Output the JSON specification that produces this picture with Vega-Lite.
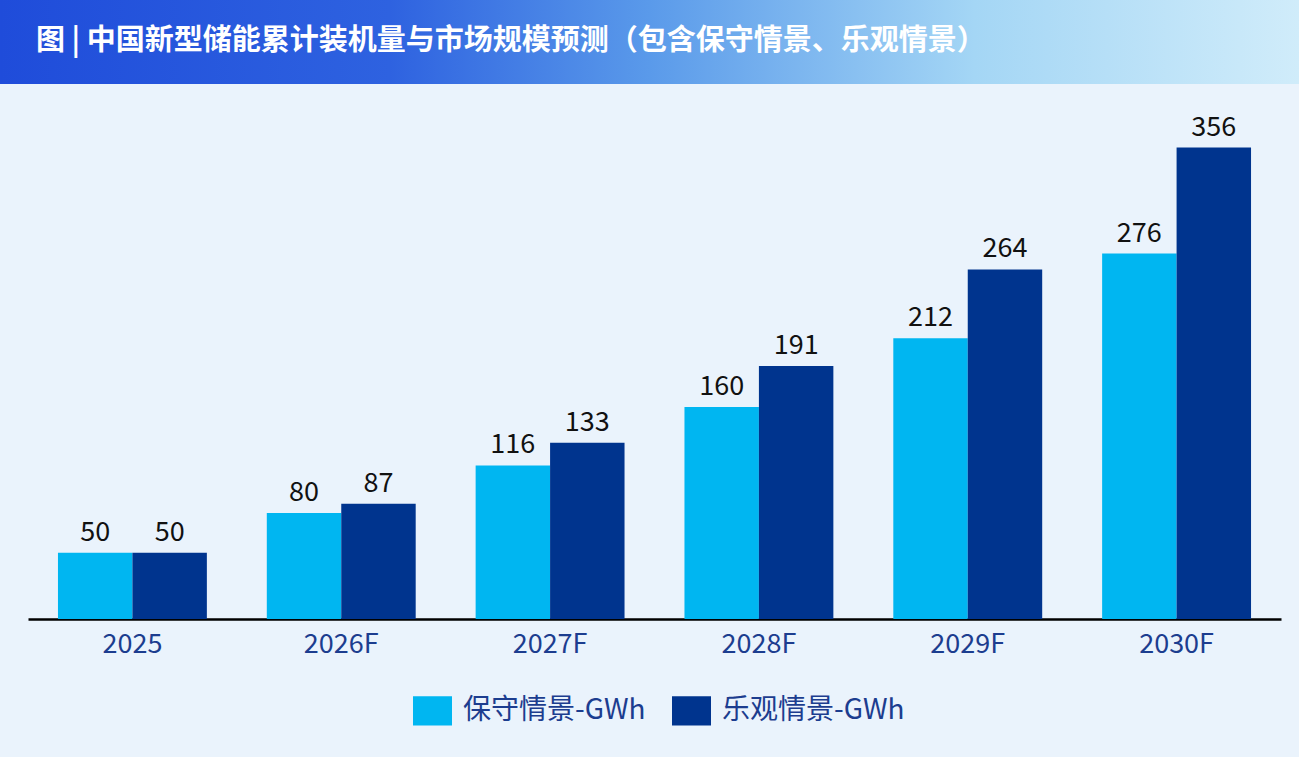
{
  "$schema": "https://vega.github.io/schema/vega-lite/v6.json",
  "background": "#EAF3FC",
  "padding": {"left": 0, "top": 0, "right": 0, "bottom": 100},
  "spacing": 0,
  "config": {
    "font": "Noto Sans CJK SC",
    "view": {"stroke": null}
  },
  "vconcat": [
    {
      "width": 1299,
      "height": 84,
      "view": {
        "stroke": null,
        "fill": {
          "gradient": "linear",
          "x1": 0, "y1": 0, "x2": 1, "y2": 0,
          "stops": [
            {"offset": 0, "color": "#1F4CDA"},
            {"offset": 0.3, "color": "#2E62E0"},
            {"offset": 0.5, "color": "#5A9AEA"},
            {"offset": 0.75, "color": "#A4D6F5"},
            {"offset": 1, "color": "#D0ECFA"}
          ]
        }
      },
      "data": {"values": [{"heading": "图 | 中国新型储能累计装机量与市场规模预测（包含保守情景、乐观情景）"}]},
      "mark": {
        "type": "text",
        "align": "left",
        "baseline": "middle",
        "fontSize": 29,
        "fontWeight": "bold",
        "color": "#FFFFFF",
        "x": 36,
        "y": 41
      },
      "encoding": {"text": {"field": "heading"}}
    },
    {
      "width": 1299,
      "height": 535,
      "data": {
        "values": [
          {"year": "2025", "series": "保守情景-GWh", "value": 50},
          {"year": "2025", "series": "乐观情景-GWh", "value": 50},
          {"year": "2026F", "series": "保守情景-GWh", "value": 80},
          {"year": "2026F", "series": "乐观情景-GWh", "value": 87},
          {"year": "2027F", "series": "保守情景-GWh", "value": 116},
          {"year": "2027F", "series": "乐观情景-GWh", "value": 133},
          {"year": "2028F", "series": "保守情景-GWh", "value": 160},
          {"year": "2028F", "series": "乐观情景-GWh", "value": 191},
          {"year": "2029F", "series": "保守情景-GWh", "value": 212},
          {"year": "2029F", "series": "乐观情景-GWh", "value": 264},
          {"year": "2030F", "series": "保守情景-GWh", "value": 276},
          {"year": "2030F", "series": "乐观情景-GWh", "value": 356}
        ]
      },
      "encoding": {
        "x": {
          "field": "year",
          "type": "nominal",
          "sort": null,
          "scale": {"range": [28, 1281], "paddingInner": 0.287, "paddingOuter": 0.1435},
          "axis": {
            "title": null,
            "labelAngle": 0,
            "ticks": false,
            "domainColor": "#000000",
            "domainWidth": 2.5,
            "labelFontSize": 27,
            "labelColor": "#1C3D8F",
            "labelPadding": 12,
            "grid": false
          }
        },
        "xOffset": {
          "field": "series",
          "type": "nominal",
          "sort": ["保守情景-GWh", "乐观情景-GWh"],
          "scale": {"paddingInner": 0, "paddingOuter": 0}
        },
        "y": {
          "field": "value",
          "type": "quantitative",
          "scale": {"domain": [0, 404], "nice": false},
          "axis": null
        }
      },
      "layer": [
        {
          "mark": {"type": "bar"},
          "encoding": {
            "color": {
              "field": "series",
              "type": "nominal",
              "sort": ["保守情景-GWh", "乐观情景-GWh"],
              "scale": {"domain": ["保守情景-GWh", "乐观情景-GWh"], "range": ["#00B6F1", "#00348E"]},
              "legend": {
                "title": null,
                "orient": "none",
                "legendX": 413,
                "legendY": 691,
                "direction": "horizontal",
                "symbolType": "M-1,-0.75H1V0.75H-1Z",
                "symbolSize": 1521,
                "symbolStrokeWidth": 0,
                "symbolOpacity": 1,
                "labelFontSize": 28,
                "labelLimit": 400,
                "labelColor": "#1C3D8F",
                "labelOffset": 11,
                "columnPadding": 26,
                "padding": 0
              }
            }
          }
        },
        {
          "mark": {"type": "text", "baseline": "alphabetic", "dy": -12, "fontSize": 27, "color": "#111111"},
          "encoding": {"text": {"field": "value", "type": "quantitative"}}
        }
      ]
    }
  ]
}
